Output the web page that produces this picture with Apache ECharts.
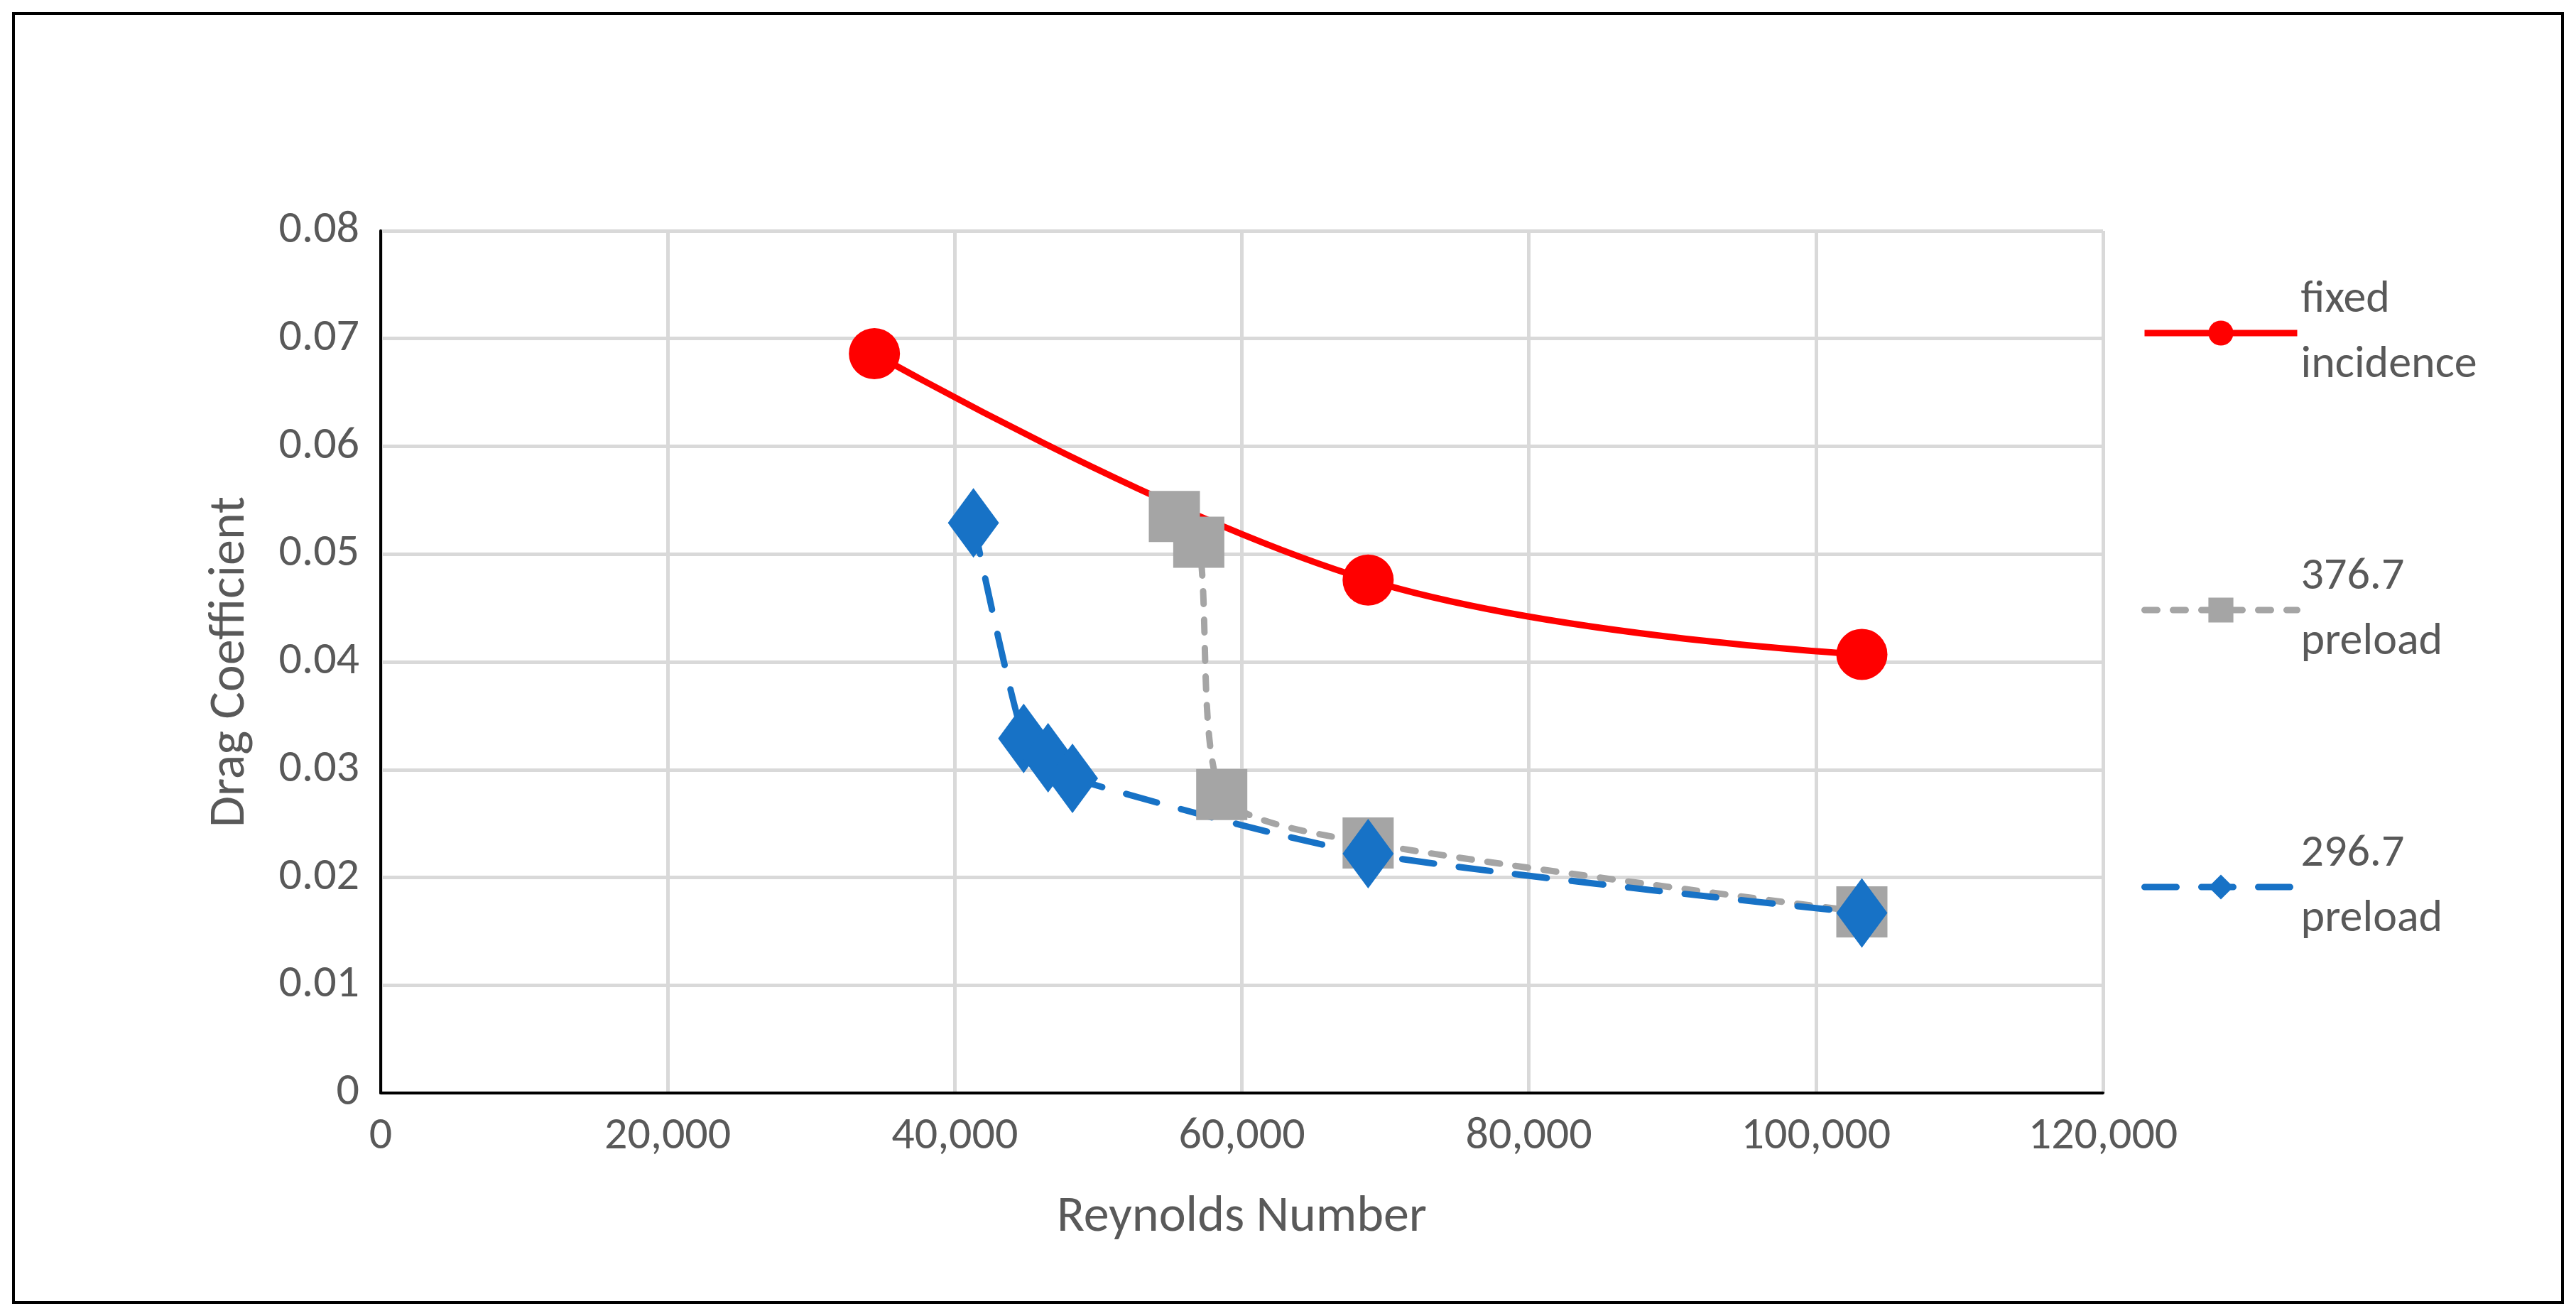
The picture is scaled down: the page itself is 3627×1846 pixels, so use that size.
<!DOCTYPE html>
<html><head><meta charset="utf-8">
<script src="https://cdn.jsdelivr.net/npm/echarts@6/dist/echarts.min.js"></script>
<style>html,body{margin:0;padding:0;background:#fff}#c{width:3627px;height:1846px}</style>
</head><body><div id="c"></div>
<script>
const fixedX=[34400,68800,103200];
const fixedY=[0.0686,0.0476,0.0407];
const p376X=[55300,57000,58600,68800,103200];
const p376Y=[0.0535,0.0511,0.0277,0.0232,0.0168];
const p296X=[41300,44800,46500,48200,68800,103200];
const p296Y=[0.0529,0.0329,0.0311,0.0292,0.0222,0.0167];
const names=['fixed\nincidence','376.7\npreload','296.7\npreload'];
const zip=(a,b)=>a.map((v,i)=>[v,b[i]]);
const F='Carlito, Lato, "Noto Sans", sans-serif';
const chart=echarts.init(document.getElementById('c'));
chart.setOption({
  animation:false,
  textStyle:{fontFamily:F},
  graphic:[{type:'rect',shape:{x:19,y:19,width:3589,height:1815},style:{fill:'none',stroke:'#000',lineWidth:4}}],
  grid:{left:536,right:666,top:325,bottom:307},
  xAxis:{type:'value',min:0,max:120000,interval:20000,name:'Reynolds Number',nameLocation:'middle',nameGap:140,
    nameTextStyle:{fontSize:72,color:'#595959',fontFamily:F},
    axisLine:{lineStyle:{color:'#000',width:4}},axisTick:{show:false},
    axisLabel:{fontSize:64,color:'#595959',margin:30,formatter:v=>v.toLocaleString('en-US')},
    splitLine:{lineStyle:{color:'#d9d9d9',width:5}}},
  yAxis:{type:'value',min:0,max:0.08,interval:0.01,name:'Drag Coefficient',nameLocation:'middle',nameGap:175,
    nameTextStyle:{fontSize:72,color:'#595959',fontFamily:F},
    axisLine:{show:true,lineStyle:{color:'#000',width:4}},axisTick:{show:false},
    axisLabel:{fontSize:64,color:'#595959',margin:30,formatter:v=>+v.toFixed(2)+''},
    splitLine:{lineStyle:{color:'#d9d9d9',width:5}}},
  legend:{orient:'vertical',left:3010,top:326,itemGap:114,itemWidth:215,itemHeight:44,
    lineStyle:{width:9},
    textStyle:{fontSize:64,color:'#595959',lineHeight:92,padding:[92,0,0,0],fontFamily:F},data:names},
  series:[
    {name:names[0],type:'line',data:zip(fixedX,fixedY),smooth:0.4,symbol:'circle',symbolSize:72,
      lineStyle:{color:'#ff0000',width:9},itemStyle:{color:'#ff0000'}},
    {name:names[1],type:'line',data:zip(p376X,p376Y),smooth:0.25,symbol:'rect',symbolSize:72,
      lineStyle:{color:'#a5a5a5',width:9,type:[18,22],cap:'round'},itemStyle:{color:'#a5a5a5'}},
    {name:names[2],type:'line',data:zip(p296X,p296Y),smooth:0.25,symbol:'diamond',symbolSize:[72,98],
      lineStyle:{color:'#1772c6',width:9,type:[45,35],cap:'round'},itemStyle:{color:'#1772c6'}}
  ]
});
</script></body></html>
